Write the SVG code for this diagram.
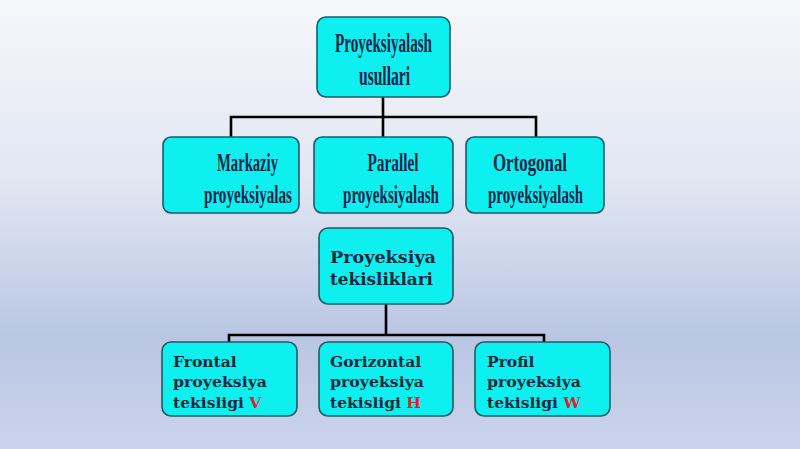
<svg xmlns="http://www.w3.org/2000/svg" width="800" height="449" viewBox="0 0 800 449">
<defs>
<linearGradient id="bg" x1="0" y1="0" x2="0" y2="1">
<stop offset="0" stop-color="#f6f7fb"/>
<stop offset="0.4" stop-color="#e1e6f2"/>
<stop offset="0.75" stop-color="#b9c6e3"/>
<stop offset="1" stop-color="#cad3ea"/>
</linearGradient>
<style>
.box{fill:#0ef0f0;stroke:#1d5a66;stroke-width:1.6}
.c{font-family:"Liberation Serif",serif;font-weight:bold;fill:#13254a;text-anchor:middle}
.b{font-family:"DejaVu Serif","Liberation Serif",serif;font-weight:bold;fill:#0d2a3c}
.r{fill:#e3202a}
.ln{fill:none;stroke:#000;stroke-width:2.6}
</style>
</defs>
<rect x="0" y="0" width="800" height="449" fill="url(#bg)"/>
<g id="connectors">
<path class="ln" d="M383 97V117M231 137V117H536V137M383 117V137"/>
<path class="ln" d="M386 304V335M229 342V335H544V342"/>
</g>
<g id="n-usullari">
<rect class="box" x="317" y="17" width="133" height="80" rx="9"/>
<text class="c" x="383.5" y="51.5" font-size="27" textLength="97" lengthAdjust="spacingAndGlyphs">Proyeksiyalash</text>
<text class="c" x="384.5" y="85" font-size="27" textLength="51" lengthAdjust="spacingAndGlyphs">usullari</text>
</g>
<g id="n-markaziy">
<rect class="box" x="163" y="137" width="136" height="76" rx="8"/>
<text class="c" x="247.5" y="170.5" font-size="25" textLength="61" lengthAdjust="spacingAndGlyphs">Markaziy</text>
<text class="c" x="248" y="203" font-size="25" textLength="88" lengthAdjust="spacingAndGlyphs">proyeksiyalas</text>
</g>
<g id="n-parallel">
<rect class="box" x="314" y="137" width="139" height="76" rx="8"/>
<text class="c" x="393" y="170.5" font-size="25" textLength="51" lengthAdjust="spacingAndGlyphs">Parallel</text>
<text class="c" x="391" y="203" font-size="25" textLength="96" lengthAdjust="spacingAndGlyphs">proyeksiyalash</text>
</g>
<g id="n-ortogonal">
<rect class="box" x="466" y="137" width="138" height="76" rx="8"/>
<text class="c" x="530" y="170.5" font-size="25" textLength="74" lengthAdjust="spacingAndGlyphs">Ortogonal</text>
<text class="c" x="535.5" y="203" font-size="25" textLength="95" lengthAdjust="spacingAndGlyphs">proyeksiyalash</text>
</g>
<g id="n-tekisliklari">
<rect class="box" x="319" y="228" width="134" height="76" rx="9"/>
<text class="b" x="330" y="262.5" font-size="17.5" textLength="106" lengthAdjust="spacingAndGlyphs">Proyeksiya</text>
<text class="b" x="330" y="285" font-size="17.5" textLength="103" lengthAdjust="spacingAndGlyphs">tekisliklari</text>
</g>
<g id="n-frontal">
<rect class="box" x="162" y="342" width="135" height="74" rx="9"/>
<text class="b" x="173" y="366.5" font-size="15.5">Frontal</text>
<text class="b" x="173" y="386.5" font-size="15.5" textLength="94" lengthAdjust="spacingAndGlyphs">proyeksiya</text>
<text class="b" x="173" y="407.5" font-size="15.5">tekisligi <tspan class="r">V</tspan></text>
</g>
<g id="n-gorizontal">
<rect class="box" x="319" y="342" width="134" height="74" rx="9"/>
<text class="b" x="330" y="366.5" font-size="15.5">Gorizontal</text>
<text class="b" x="330" y="386.5" font-size="15.5" textLength="94" lengthAdjust="spacingAndGlyphs">proyeksiya</text>
<text class="b" x="330" y="407.5" font-size="15.5">tekisligi <tspan class="r">H</tspan></text>
</g>
<g id="n-profil">
<rect class="box" x="475" y="342" width="135" height="74" rx="9"/>
<text class="b" x="487" y="366.5" font-size="15.5">Profil</text>
<text class="b" x="487" y="386.5" font-size="15.5" textLength="94" lengthAdjust="spacingAndGlyphs">proyeksiya</text>
<text class="b" x="487" y="407.5" font-size="15.5">tekisligi <tspan class="r">W</tspan></text>
</g>
</svg>
